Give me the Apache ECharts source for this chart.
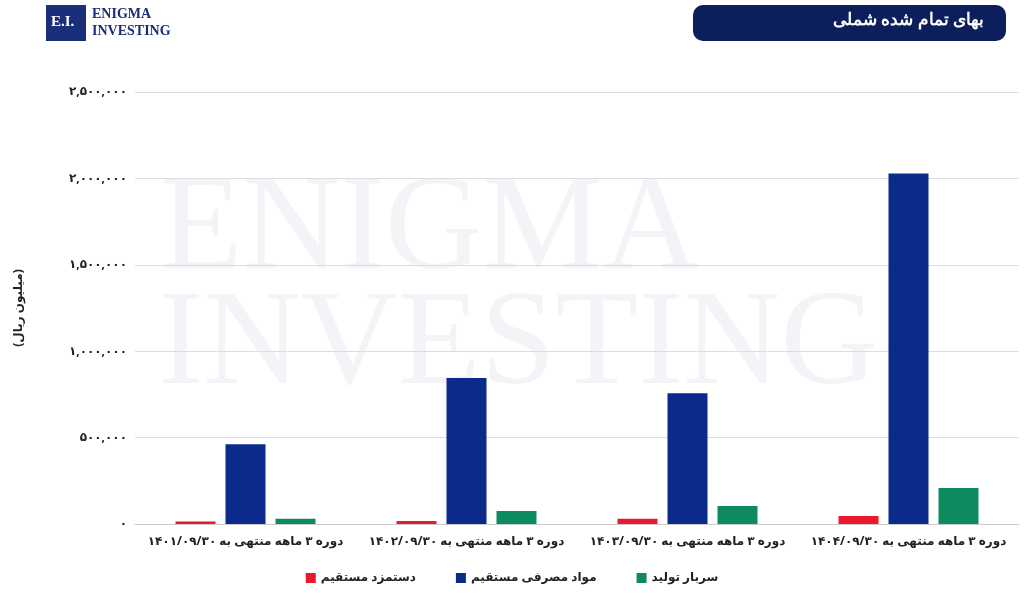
<!DOCTYPE html>
<html><head><meta charset="utf-8">
<script src="https://cdn.jsdelivr.net/npm/echarts@6/dist/echarts.min.js"></script>
<style>html,body{margin:0;padding:0;background:#fff}#c{width:1024px;height:601px}</style>
</head><body><div id="c"></div>
<script>
const categories = ['دوره ۳ ماهه منتهی به ۱۴۰۱/۰۹/۳۰','دوره ۳ ماهه منتهی به ۱۴۰۲/۰۹/۳۰','دوره ۳ ماهه منتهی به ۱۴۰۳/۰۹/۳۰','دوره ۳ ماهه منتهی به ۱۴۰۴/۰۹/۳۰'];
const wages = [15000, 17000, 30000, 46000];
const materials = [462000, 845000, 757000, 2029000];
const overhead = [30000, 75000, 104000, 208000];
const seriesNames = ['دستمزد مستقیم','مواد مصرفی مستقیم','سربار تولید'];
const fa = s => String(s).replace(/\d/g, d => '۰۱۲۳۴۵۶۷۸۹'[d]);
const chart = echarts.init(document.getElementById('c'));
chart.setOption({
  textStyle:{fontFamily:'Noto Sans, DejaVu Sans'},
  graphic:[
    {type:'text',left:160,top:165,style:{text:'ENIGMA',font:'135px Liberation Serif',fill:'rgba(40,60,130,0.06)'}},
    {type:'text',left:158,top:280,style:{text:'INVESTING',font:'135px Liberation Serif',fill:'rgba(40,60,130,0.06)'}},
    {type:'rect',left:46,top:5,shape:{width:40,height:36},style:{fill:'#1a2e7a'}},
    {type:'text',left:51,top:15,style:{text:'E.I.',font:'bold 15px Liberation Serif',fill:'#fff'}},
    {type:'text',left:92,top:6,style:{text:'ENIGMA\nINVESTING',font:'bold 14px Liberation Serif',fill:'#1a2e7a',lineHeight:17}},
    {type:'rect',left:693,top:5,shape:{width:313,height:36,r:10},style:{fill:'#0c1f5c'}},
    {type:'text',right:40,top:12,style:{text:'بهای تمام شده شملی',font:'bold 17px Noto Sans',fill:'#fff'}}
  ],
  grid:{left:135,right:5,top:92,bottom:77},
  legend:{bottom:12,left:'center',itemWidth:10,itemHeight:10,itemGap:40,icon:'rect',
    textStyle:{fontSize:12,color:'#222',fontWeight:'bold'},data:seriesNames},
  xAxis:{type:'category',data:categories,axisTick:{show:false},
    axisLine:{lineStyle:{color:'#ccc'}},axisLabel:{interval:0,color:'#222',fontSize:12,fontWeight:'bold',margin:12}},
  yAxis:{type:'value',min:0,max:2500000,interval:500000,name:'(میلیون ریال)',nameLocation:'middle',nameGap:110,
    nameTextStyle:{fontSize:12,fontWeight:'bold',color:'#222'},
    axisLabel:{color:'#222',fontSize:12,fontWeight:'bold',formatter:v=>fa(v.toLocaleString('en-US'))},
    splitLine:{lineStyle:{color:'#ddd'}}},
  series:[
    {name:seriesNames[0],type:'bar',data:wages,barWidth:40,barGap:'25%',itemStyle:{color:'#e8192c'}},
    {name:seriesNames[1],type:'bar',data:materials,barWidth:40,barGap:'25%',itemStyle:{color:'#0a2a8c'}},
    {name:seriesNames[2],type:'bar',data:overhead,barWidth:40,barGap:'25%',itemStyle:{color:'#0e8a5f'}}
  ]
});
</script></body></html>
